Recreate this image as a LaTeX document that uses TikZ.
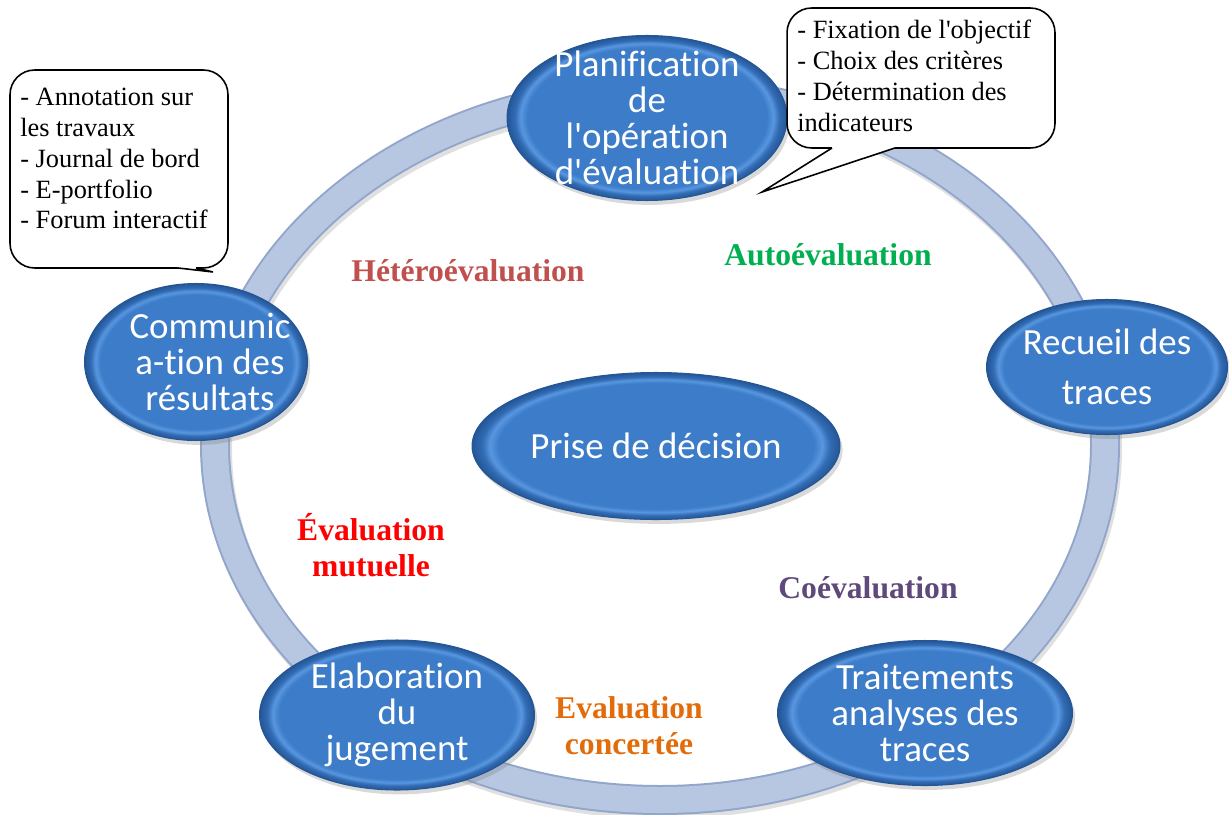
\documentclass[tikz,border=0pt]{standalone}
\usepackage{fontspec}
\setmainfont{Liberation Serif}[Ligatures=TeXOff]
\newfontfamily\stagefamily{Carlito}[Ligatures={TeXOff,NoCommon}]
\usetikzlibrary{shapes.geometric, positioning, shadows}
\definecolor{ringfill}{RGB}{183,198,225}
\definecolor{ringedge}{RGB}{146,166,204}
\definecolor{stagemid}{RGB}{60,124,200}
\definecolor{stagerim}{RGB}{88,150,224}
\definecolor{stagedark}{RGB}{50,108,180}
\definecolor{stageedge}{RGB}{36,86,150}
\definecolor{myhetero}{RGB}{192,80,77}
\definecolor{myauto}{RGB}{0,176,80}
\definecolor{mymutual}{RGB}{255,0,0}
\definecolor{mycoeval}{RGB}{95,73,122}
\definecolor{myconcert}{RGB}{227,108,10}
\pgfdeclareradialshading{stageball}{\pgfpointorigin}{color(0bp)=(stagemid); color(21.4bp)=(stagemid); color(22.6bp)=(stagerim); color(23.6bp)=(stagedark); color(25bp)=(stageedge); color(50bp)=(stageedge)}
\newcommand\stagefont{\stagefamily\fontsize{21}{20.5}\selectfont}
\newcommand\evalfont{\bfseries\fontsize{18}{20.5}\selectfont}
\newcommand\notefont{\fontsize{15}{17.5}\selectfont}
\lineskiplimit=-20pt
\tikzset{
  stagenode/.style={ellipse, shade, shading=stageball, draw=stageedge,
    line width=0.6pt, text=white, font=\stagefont, align=center, inner sep=-12pt,
    drop shadow={shadow xshift=1.5pt, shadow yshift=-2.5pt, opacity=0.3}},
  evallabel/.style={font=\evalfont, align=center},
  notebox/.style={rectangle, draw=black, fill=white, rounded corners=14pt,
    line width=0.9pt, outer sep=0pt},
  notetext/.style={font=\notefont, align=left, inner sep=0pt},
  notetail/.style={draw=black, line width=0.9pt},
  ringborder/.style={line width=0.6cm, color=ringedge},
  ringband/.style={line width=0.52cm, color=ringfill}
}
\begin{document}
\begin{tikzpicture}[x=0.02cm, y=-0.02cm]
  \useasboundingbox (0,0) rectangle (1229,814);

  % Cycle ring
  \draw[line width=0.6cm, black!30, opacity=0.4] (662,449) ellipse [x radius=445, y radius=355];
  \draw[ringborder] (660,445) ellipse [x radius=445, y radius=355];
  \draw[ringband] (660,445) ellipse [x radius=445, y radius=355];

  % Stages
  \node[stagenode, minimum width=5.6cm, minimum height=3.3cm] (plan) at (647,118)
    {Planification\\de\\l'opération\\d'évaluation};
  \node[stagenode, minimum width=4.82cm, minimum height=2.7cm] (recueil) at (1107,367)
    {Recueil des\\[8pt]traces};
  \node[stagenode, minimum width=5.9cm, minimum height=2.9cm] (trait) at (925,713)
    {Traitements\\analyses des\\traces};
  \node[stagenode, minimum width=5.5cm, minimum height=3.0cm] (elab) at (397,715)
    {Elaboration\\du\\jugement};
  \node[stagenode, minimum width=4.46cm, minimum height=3.14cm] (comm) at (196,362)
    {\hspace*{0.56cm}Communic\\\hspace*{0.56cm}a-tion des\\\hspace*{0.56cm}résultats};
  \node[stagenode, minimum width=7.36cm, minimum height=2.94cm] (prise) at (656,446)
    {Prise de décision};

  % Kinds of evaluation
  \node[evallabel, text=myhetero] (hetero) at (468,271) {Hétéroévaluation};
  \node[evallabel, text=myauto] (auto) at (828,255) {Autoévaluation};
  \node[evallabel, text=mymutual] (mutual) at (371,545) {Évaluation\\mutuelle};
  \node[evallabel, text=mycoeval] (coeval) at (868,588) {Coévaluation};
  \node[evallabel, text=myconcert] (concert) at (629,726) {Evaluation\\concertée};

  % Note on planning
  \node[notebox, minimum width=5.36cm, minimum height=2.8cm] (noteplan) at (921,78) {};
  \node[notetext, below right=0.24cm and 0.2cm of noteplan.north west] (noteplantext)
    {- Fixation de l'objectif\\- Choix des critères\\- Détermination des\\indicateurs};
  \coordinate (planptr) at (762,192);
  \coordinate (planbaseA) at ([xshift=0.9cm]noteplan.south west);
  \coordinate (planbaseB) at ([xshift=2.16cm]noteplan.south west);
  \fill[white] ([yshift=2pt]planbaseA) -- (planbaseA) -- (planptr) -- (planbaseB) -- ([yshift=2pt]planbaseB) -- cycle;
  \draw[notetail] (planbaseA) -- (planptr) -- (planbaseB);

  % Note on communication
  \node[notebox, minimum width=4.36cm, minimum height=3.96cm] (notecomm) at (119,169) {};
  \node[notetext, below right=0.36cm and 0.2cm of notecomm.north west] (notecommtext)
    {- Annotation sur\\les travaux\\- Journal de bord\\- E-portfolio\\- Forum interactif};
  \coordinate (commptr) at (213,272);
  \coordinate (commbaseA) at ([xshift=3.36cm]notecomm.south west);
  \coordinate (commbaseB) at ([xshift=3.72cm]notecomm.south west);
  \fill[white] ([yshift=2pt]commbaseA) -- (commbaseA) -- (commptr) -- (commbaseB) -- ([yshift=2pt]commbaseB) -- cycle;
  \draw[notetail] (commbaseA) -- (commptr) -- (commbaseB);
\end{tikzpicture}
\end{document}
